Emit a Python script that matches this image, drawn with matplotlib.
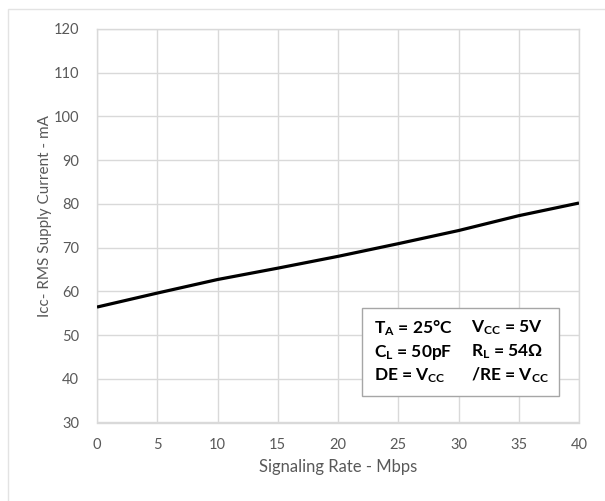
import matplotlib.pyplot as plt
from matplotlib.patches import Rectangle

# signaling rate (Mbps) vs Icc RMS supply current (mA)
rate = [0, 5, 10, 15, 20, 25, 30, 35, 40]
icc = [56.4, 59.6, 62.7, 65.3, 68.0, 70.9, 73.9, 77.3, 80.2]

x_ticks = [0, 5, 10, 15, 20, 25, 30, 35, 40]
y_ticks = [30, 40, 50, 60, 70, 80, 90, 100, 110, 120]

# test conditions shown in the box, two columns per row
cond_left = [r'$\mathbf{T_A}$ = 25°C', r'$\mathbf{C_L}$ = 50pF', r'DE = $\mathbf{V_{CC}}$']
cond_right = [r'$\mathbf{V_{CC}}$ = 5V', r'$\mathbf{R_L}$ = 54Ω', r'/RE = $\mathbf{V_{CC}}$']

plt.rcParams['font.family'] = ['Lato', 'DejaVu Sans']
plt.rcParams['mathtext.fontset'] = 'custom'
plt.rcParams['mathtext.rm'] = 'Lato'
plt.rcParams['mathtext.bf'] = 'Lato:bold'
grey = '#595959'
grid_c = '#d9d9d9'

fig = plt.figure(figsize=(6.05, 5.01), dpi=100)
# faint chart-area border like the spreadsheet frame
fig.patches.append(Rectangle((8 / 605, -0.01), 1.0, 1 - 9.5 / 501 + 0.01, transform=fig.transFigure,
                             fill=False, edgecolor='#e3e3e3', linewidth=1))

ax = fig.add_axes([97 / 605, 1 - 422.5 / 501, (579 - 97) / 605, (422.5 - 29) / 501])
ax.plot(rate, icc, color='black', linewidth=2.3, solid_capstyle='butt', zorder=3)

ax.set_xlim(0, 40)
ax.set_ylim(30, 120)
ax.set_xticks(x_ticks)
ax.set_yticks(y_ticks)
ax.grid(True, color=grid_c, linewidth=1)
ax.set_axisbelow(True)
for s in ax.spines.values():
    s.set_color(grid_c)
    s.set_linewidth(1)
ax.tick_params(length=0, labelsize=10.5, labelcolor=grey)
ax.tick_params(axis='y', pad=13)
ax.tick_params(axis='x', pad=11)

ax.set_xlabel('Signaling Rate - Mbps', fontsize=12, color=grey, labelpad=5)
ax.set_ylabel('Icc- RMS Supply Current - mA', fontsize=11, color=grey)
ax.yaxis.set_label_coords(-45 / 482, 0.525)

# conditions box
ax.add_patch(Rectangle((22.0, 36.0), 16.3, 20.1, facecolor='white', edgecolor='#a6a6a6',
                       linewidth=1, zorder=4))
row_y = [51.6, 46.1, 40.8]
for lt, rt, yy in zip(cond_left, cond_right, row_y):
    ax.text(23.0, yy, lt, fontsize=12.5, fontweight='bold', color='black',
            va='center', ha='left', zorder=5)
    ax.text(31.0, yy, rt, fontsize=12.5, fontweight='bold', color='black',
            va='center', ha='left', zorder=5)

plt.savefig('out.png', dpi=100)
